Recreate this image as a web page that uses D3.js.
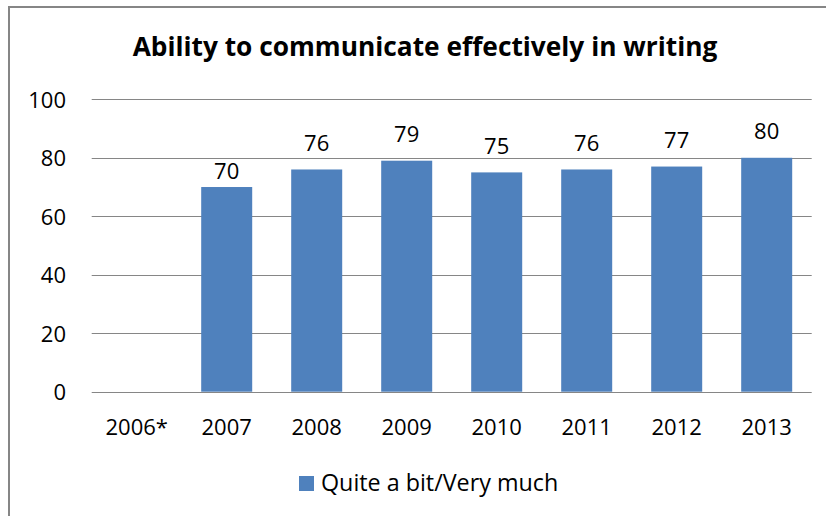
<!DOCTYPE html>
<html>
<head>
<meta charset="utf-8">
<script src="https://cdn.jsdelivr.net/npm/d3@7"></script>
<style>
  html, body { margin: 0; padding: 0; background: #fff; }
  svg { display: block; }
  text { font-family: "Open Sans", Lato, sans-serif; fill: #000; }
</style>
</head>
<body>
<script>
// Chart data
const categories = ["2006*", "2007", "2008", "2009", "2010", "2011", "2012", "2013"];
const values = [null, 70, 76, 79, 75, 76, 77, 80];
const yTicks = [0, 20, 40, 60, 80, 100];
const seriesName = "Quite a bit/Very much";
const title = "Ability to communicate effectively in writing";

const W = 826, H = 516;
const barColor = "#4F81BD";
const gridColor = "#868686";
const font = "'Open Sans', Lato, sans-serif";

// Gap between a bar top and its value label baseline; the 2007 label sits lower
const labelGap = 18.6;
const labelGapOverride = { "2007": 8 };

const svg = d3.select("body").append("svg")
  .attr("width", W).attr("height", H);

// Outer chart border
svg.append("rect")
  .attr("x", 9).attr("y", 7)
  .attr("width", W + 20).attr("height", H + 20)
  .attr("fill", "#fff")
  .attr("stroke", gridColor).attr("stroke-width", 2);

// Title
svg.append("text")
  .attr("x", 425).attr("y", 56)
  .attr("text-anchor", "middle")
  .attr("font-size", 26.3)
  .attr("font-weight", "bold")
  .text(title);

const x = d3.scaleBand()
  .domain(categories)
  .range([91.7, 811.7])
  .paddingInner(0.4333)
  .paddingOuter(0.21667);

const y = d3.scaleLinear()
  .domain([0, 100])
  .range([391.7, 99.3]);

// Horizontal gridlines
svg.append("g")
  .selectAll("line")
  .data(yTicks)
  .join("line")
  .attr("x1", 91.7).attr("x2", 811.7)
  .attr("y1", d => Math.round(y(d)) + 0.5)
  .attr("y2", d => Math.round(y(d)) + 0.5)
  .attr("stroke", gridColor).attr("stroke-width", 1.2);

// Y axis labels
const yAxis = d3.axisLeft(y).tickValues(yTicks).tickSize(0).tickPadding(0);
svg.append("g")
  .attr("transform", "translate(66,0)")
  .call(yAxis)
  .call(g => g.select(".domain").remove())
  .call(g => g.selectAll("text")
    .attr("font-size", 22)
    .attr("font-family", font)
    .attr("fill", "#000")
    .attr("dy", "0.36em"));

// X axis labels
const xAxis = d3.axisBottom(x).tickSize(0).tickPadding(0);
svg.append("g")
  .attr("transform", "translate(0,392)")
  .call(xAxis)
  .call(g => g.select(".domain").remove())
  .call(g => g.selectAll("text")
    .attr("font-size", 22)
    .attr("font-family", font)
    .attr("fill", "#000")
    .attr("dy", null)
    .attr("y", 42.5));

const data = categories.map((c, i) => ({ c, v: values[i] })).filter(d => d.v != null);

// Bars
svg.append("g")
  .selectAll("rect")
  .data(data)
  .join("rect")
  .attr("x", d => x(d.c))
  .attr("width", x.bandwidth())
  .attr("y", d => y(d.v))
  .attr("height", d => y(0) - y(d.v))
  .attr("fill", barColor);

// Value labels
svg.append("g")
  .selectAll("text")
  .data(data)
  .join("text")
  .attr("x", d => x(d.c) + x.bandwidth() / 2)
  .attr("y", d => y(d.v) - (labelGapOverride[d.c] ?? labelGap))
  .attr("text-anchor", "middle")
  .attr("font-size", 22)
  .text(d => d.v);

// Legend
const legend = svg.append("g");
legend.append("rect")
  .attr("x", 299).attr("y", 476)
  .attr("width", 15).attr("height", 15)
  .attr("fill", barColor);
legend.append("text")
  .attr("x", 321).attr("y", 491)
  .attr("font-size", 23.3)
  .text(seriesName);
</script>
</body>
</html>
